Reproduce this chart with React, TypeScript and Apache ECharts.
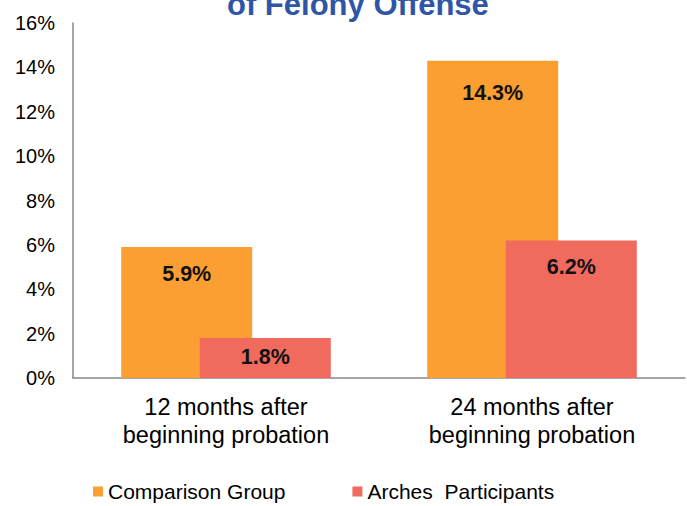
import React, { useEffect, useRef } from "react";
import * as echarts from "echarts";

const categories = ["12 months after\nbeginning probation", "24 months after\nbeginning probation"];
const comparisonGroup = [5.9, 14.3];
const archesParticipants = [1.8, 6.2];
const yTicks = [0, 2, 4, 6, 8, 10, 12, 14, 16];
const titleText = "of Felony Offense";

export default function App() {
  const ref = useRef<HTMLDivElement>(null);
  useEffect(() => {
    const chart = echarts.init(ref.current!, null, { renderer: "svg" });
    const font = "Liberation Sans, Arial, sans-serif";
    chart.setOption({
      animation: false,
      backgroundColor: "#ffffff",
      textStyle: { fontFamily: font },
      graphic: [
        {
          type: "text",
          left: 227,
          top: -11,
          style: { text: titleText, font: `bold 31px ${font}`, fill: "#2F56A6" },
        },
      ],
      grid: { left: 73, right: 2, top: 23, bottom: 128, containLabel: false },
      legend: {
        top: 481,
        left: 93,
        itemGap: 67,
        itemWidth: 10,
        itemHeight: 10,
        icon: "rect",
        padding: 0,
        textStyle: { fontSize: 21, color: "#000", fontFamily: font },
        data: ["Comparison Group", "Arches  Participants"],
      },
      xAxis: {
        type: "category",
        data: categories,
        axisLine: { lineStyle: { color: "#888", width: 1.5 } },
        axisTick: { show: false },
        axisLabel: { fontSize: 23.5, color: "#000", lineHeight: 28, margin: 15, fontFamily: font },
      },
      yAxis: {
        type: "value",
        min: yTicks[0],
        max: yTicks[yTicks.length - 1],
        interval: 2,
        axisLine: { show: true, lineStyle: { color: "#888", width: 1.5 } },
        splitLine: { show: false },
        axisTick: { show: false },
        axisLabel: { fontSize: 20, color: "#000", margin: 18, formatter: "{value}%", fontFamily: font },
      },
      series: [
        {
          name: "Comparison Group",
          type: "bar",
          barWidth: 131,
          barGap: "-40%",
          itemStyle: { color: "#FC9F33" },
          data: comparisonGroup.map((v, i) => ({
            value: v,
            label: { distance: i === 0 ? 16 : 21 },
          })),
          label: {
            show: true,
            position: "insideTop",
            formatter: "{c}%",
            fontSize: 21.5,
            fontWeight: "bold",
            color: "#111",
            fontFamily: font,
          },
        },
        {
          name: "Arches  Participants",
          type: "bar",
          barWidth: 131,
          barGap: "-40%",
          itemStyle: { color: "#F06A5E" },
          data: archesParticipants.map((v, i) => ({
            value: v,
            label: { distance: i === 0 ? 8 : 16 },
          })),
          label: {
            show: true,
            position: "insideTop",
            formatter: "{c}%",
            fontSize: 21.5,
            fontWeight: "bold",
            color: "#111",
            fontFamily: font,
          },
        },
      ],
    });
    return () => chart.dispose();
  }, []);
  return <div ref={ref} style={{ width: 687, height: 506, position: "absolute", left: 0, top: 0 }} />;
}
